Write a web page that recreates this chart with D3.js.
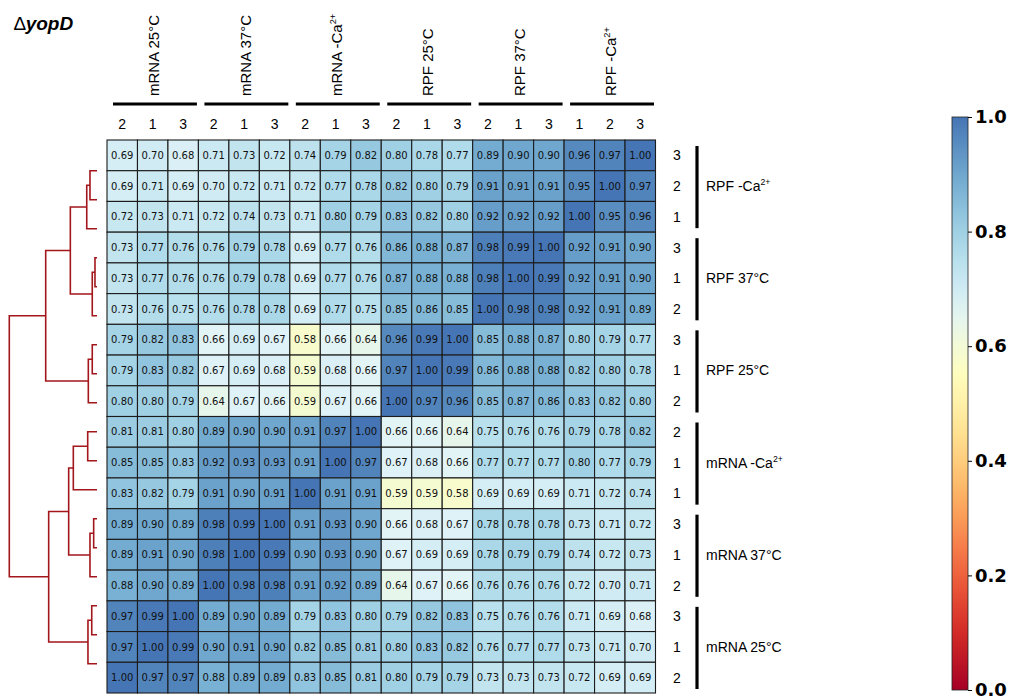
<!DOCTYPE html>
<html>
<head>
<meta charset="utf-8">
<script src="https://cdn.jsdelivr.net/npm/d3@7"></script>
<style>
  html, body { margin: 0; padding: 0; background: #fff; }
  svg { display: block; }
</style>
</head>
<body>
<div id="chart"></div>
<script>
// column / row annotations
const colGroups = ['mRNA 25°C', 'mRNA 37°C', 'mRNA -Ca|2+', 'RPF 25°C', 'RPF 37°C', 'RPF -Ca|2+'];
const colSamples = ['2','1','3','2','1','3','2','1','3','2','1','3','2','1','3','1','2','3'];
const rowGroups = ['RPF -Ca|2+', 'RPF 37°C', 'RPF 25°C', 'mRNA -Ca|2+', 'mRNA 37°C', 'mRNA 25°C'];
const rowSamples = ['3','2','1','3','1','2','3','1','2','2','1','1','3','1','2','3','1','2'];

// correlation matrix, rows top to bottom
const values = [
  [0.69,0.70,0.68,0.71,0.73,0.72,0.74,0.79,0.82,0.80,0.78,0.77,0.89,0.90,0.90,0.96,0.97,1.00],
  [0.69,0.71,0.69,0.70,0.72,0.71,0.72,0.77,0.78,0.82,0.80,0.79,0.91,0.91,0.91,0.95,1.00,0.97],
  [0.72,0.73,0.71,0.72,0.74,0.73,0.71,0.80,0.79,0.83,0.82,0.80,0.92,0.92,0.92,1.00,0.95,0.96],
  [0.73,0.77,0.76,0.76,0.79,0.78,0.69,0.77,0.76,0.86,0.88,0.87,0.98,0.99,1.00,0.92,0.91,0.90],
  [0.73,0.77,0.76,0.76,0.79,0.78,0.69,0.77,0.76,0.87,0.88,0.88,0.98,1.00,0.99,0.92,0.91,0.90],
  [0.73,0.76,0.75,0.76,0.78,0.78,0.69,0.77,0.75,0.85,0.86,0.85,1.00,0.98,0.98,0.92,0.91,0.89],
  [0.79,0.82,0.83,0.66,0.69,0.67,0.58,0.66,0.64,0.96,0.99,1.00,0.85,0.88,0.87,0.80,0.79,0.77],
  [0.79,0.83,0.82,0.67,0.69,0.68,0.59,0.68,0.66,0.97,1.00,0.99,0.86,0.88,0.88,0.82,0.80,0.78],
  [0.80,0.80,0.79,0.64,0.67,0.66,0.59,0.67,0.66,1.00,0.97,0.96,0.85,0.87,0.86,0.83,0.82,0.80],
  [0.81,0.81,0.80,0.89,0.90,0.90,0.91,0.97,1.00,0.66,0.66,0.64,0.75,0.76,0.76,0.79,0.78,0.82],
  [0.85,0.85,0.83,0.92,0.93,0.93,0.91,1.00,0.97,0.67,0.68,0.66,0.77,0.77,0.77,0.80,0.77,0.79],
  [0.83,0.82,0.79,0.91,0.90,0.91,1.00,0.91,0.91,0.59,0.59,0.58,0.69,0.69,0.69,0.71,0.72,0.74],
  [0.89,0.90,0.89,0.98,0.99,1.00,0.91,0.93,0.90,0.66,0.68,0.67,0.78,0.78,0.78,0.73,0.71,0.72],
  [0.89,0.91,0.90,0.98,1.00,0.99,0.90,0.93,0.90,0.67,0.69,0.69,0.78,0.79,0.79,0.74,0.72,0.73],
  [0.88,0.90,0.89,1.00,0.98,0.98,0.91,0.92,0.89,0.64,0.67,0.66,0.76,0.76,0.76,0.72,0.70,0.71],
  [0.97,0.99,1.00,0.89,0.90,0.89,0.79,0.83,0.80,0.79,0.82,0.83,0.75,0.76,0.76,0.71,0.69,0.68],
  [0.97,1.00,0.99,0.90,0.91,0.90,0.82,0.85,0.81,0.80,0.83,0.82,0.76,0.77,0.77,0.73,0.71,0.70],
  [1.00,0.97,0.97,0.88,0.89,0.89,0.83,0.85,0.81,0.80,0.79,0.79,0.73,0.73,0.73,0.72,0.69,0.69]
];

// row dendrogram, scipy-style linkage: [left, right, height]; new ids start at 18
const linkage = [
  [0, 1, 0.080], [18, 2, 0.117], [3, 4, 0.023], [20, 5, 0.054], [19, 21, 0.304],
  [6, 7, 0.054], [23, 8, 0.099], [22, 24, 0.585],
  [9, 10, 0.106], [26, 11, 0.270], [12, 13, 0.038], [28, 14, 0.080], [27, 29, 0.323],
  [15, 16, 0.060], [31, 17, 0.103], [30, 32, 0.551], [25, 33, 1.000]
];

const colorTicks = [0, 0.2, 0.4, 0.6, 0.8, 1.0];

const W = 1018, H = 697;
const n = values.length;
const palette = ['#a50026','#d73027','#f46d43','#fdae61','#fee090','#ffffbf','#e0f3f8','#abd9e9','#74add1','#4575b4'];
const color = d3.scaleLinear()
  .domain(palette.map((c, i) => i / (palette.length - 1)))
  .range(palette)
  .clamp(true);

const svg = d3.select('#chart').append('svg')
  .attr('width', W).attr('height', H);

const x = d3.scaleBand().domain(d3.range(n)).range([107, 655.5]);
const y = d3.scaleBand().domain(d3.range(n)).range([140, 693]);

const arial = 'Liberation Sans, Arial, sans-serif';

// put "label|sup" text into a text node
function richText(sel, label, size) {
  const [main, sup] = label.split('|');
  sel.append('tspan').text(main);
  if (sup) {
    sel.append('tspan')
      .attr('font-size', size * 0.62)
      .attr('dy', -size * 0.42)
      .text(sup);
  }
}

// title
const title = svg.append('text')
  .attr('x', 14).attr('y', 30)
  .attr('font-family', arial).attr('font-size', 19);
title.append('tspan').text('\u2206');
title.append('tspan').attr('font-weight', 'bold').attr('font-style', 'italic').text('yopD');

// cells
const cells = svg.append('g');
values.forEach((row, i) => {
  row.forEach((v, j) => {
    cells.append('rect')
      .attr('x', x(j)).attr('y', y(i))
      .attr('width', x.bandwidth()).attr('height', y.bandwidth())
      .attr('fill', color(v))
      .attr('stroke', '#1c1c1c').attr('stroke-width', 1.1);
    cells.append('text')
      .attr('x', x(j) + x.bandwidth() / 2)
      .attr('y', y(i) + y.bandwidth() / 2)
      .attr('dy', '0.36em')
      .attr('text-anchor', 'middle')
      .attr('font-family', 'DejaVu Sans, sans-serif')
      .attr('font-size', 10)
      .attr('fill', '#111')
      .text(d3.format('.2f')(v));
  });
});

// column sample labels
svg.append('g').selectAll('text')
  .data(colSamples)
  .join('text')
    .attr('x', (d, j) => x(j) + x.bandwidth() / 2)
    .attr('y', 124).attr('dy', '0.36em')
    .attr('text-anchor', 'middle')
    .attr('font-family', arial).attr('font-size', 14)
    .text(d => d);

// column group bars and rotated labels
const gw = x.bandwidth() * 3;
colGroups.forEach((g, k) => {
  const x0 = x(k * 3);
  svg.append('line')
    .attr('x1', x0 + 6).attr('x2', x0 + gw - 1.5)
    .attr('y1', 104).attr('y2', 104)
    .attr('stroke', '#000').attr('stroke-width', 3.2);
  const t = svg.append('text')
    .attr('transform', `translate(${x0 + gw / 2 + 1},96) rotate(-90)`)
    .attr('dy', '0.36em')
    .attr('font-family', arial).attr('font-size', 15);
  richText(t, g, 15);
});

// row sample labels
svg.append('g').selectAll('text')
  .data(rowSamples)
  .join('text')
    .attr('x', 677)
    .attr('y', (d, i) => y(i) + y.bandwidth() / 2).attr('dy', '0.36em')
    .attr('text-anchor', 'middle')
    .attr('font-family', arial).attr('font-size', 14)
    .text(d => d);

// row group bars and labels
const gh = y.bandwidth() * 3;
rowGroups.forEach((g, k) => {
  const y0 = y(k * 3);
  svg.append('line')
    .attr('x1', 697).attr('x2', 697)
    .attr('y1', y0 + 6).attr('y2', y0 + gh - 4)
    .attr('stroke', '#000').attr('stroke-width', 3.2);
  const t = svg.append('text')
    .attr('x', 706).attr('y', y0 + gh / 2).attr('dy', '0.36em')
    .attr('font-family', arial).attr('font-size', 14);
  richText(t, g, 14);
});

// dendrogram
const dy = d3.scalePoint().domain(d3.range(n)).range([170.7, 663.7]);
const dx = d3.scaleLinear().domain([0, 1]).range([97, 9.3]);
const nodes = d3.range(n).map(i => ({ y: dy(i), h: 0 }));
const dendro = svg.append('g')
  .attr('fill', 'none').attr('stroke', '#a3161b').attr('stroke-width', 1.6);
linkage.forEach(([a, b, h]) => {
  const l = nodes[a], r = nodes[b];
  dendro.append('path')
    .attr('d', `M${dx(l.h)},${l.y}H${dx(h)}V${r.y}H${dx(r.h)}`);
  nodes.push({ y: (l.y + r.y) / 2, h });
});

// colour bar
const cb = { x: 952, w: 16 };
const cy = d3.scaleLinear().domain([0, 1]).range([690, 117]);
const grad = svg.append('defs').append('linearGradient')
  .attr('id', 'cbar').attr('x1', 0).attr('x2', 0).attr('y1', 1).attr('y2', 0);
d3.range(0, 1.0001, 0.05).forEach(t => {
  grad.append('stop').attr('offset', t).attr('stop-color', color(t));
});
svg.append('rect')
  .attr('x', cb.x).attr('y', cy(1))
  .attr('width', cb.w).attr('height', cy(0) - cy(1))
  .attr('fill', 'url(#cbar)')
  .attr('stroke', '#222').attr('stroke-width', 0.8);
const cAxis = svg.append('g')
  .attr('transform', `translate(${cb.x + cb.w},0)`)
  .call(d3.axisRight(cy).tickValues(colorTicks).tickFormat(d3.format('.1f')).tickSize(4).tickPadding(3));
cAxis.select('.domain').remove();
cAxis.selectAll('text')
  .attr('font-family', 'DejaVu Sans, sans-serif')
  .attr('font-weight', 'bold')
  .attr('font-size', 18)
  .attr('fill', '#000');
</script>
</body>
</html>
